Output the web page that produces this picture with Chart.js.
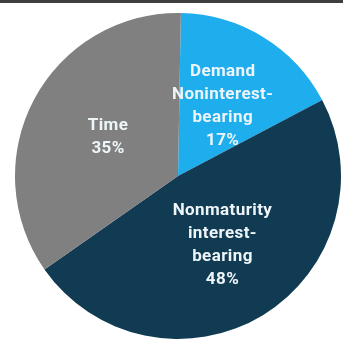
<!DOCTYPE html>
<html>
<head>
<meta charset="utf-8">
<script src="https://cdn.jsdelivr.net/npm/chart.js@4"></script>
<style>
    html, body { margin: 0; padding: 0; background: #fff; }
    #wrap { position: relative; width: 343px; height: 344px; overflow: hidden; }
    #topbar { position: absolute; left: 0; top: 0; width: 343px; height: 3px; background: #3e3e3e; }
</style>
</head>
<body>
<div id="wrap">
    <canvas id="deposit-mix-canvas" width="343" height="344"></canvas>
    <div id="topbar"></div>
</div>
<script>
// deposit mix by type, share of total (%)
const categoryLines = [
    ['Demand', 'Noninterest-', 'bearing'],
    ['Nonmaturity', 'interest-', 'bearing'],
    ['Time']
];
const shares = [17, 48, 35];
const sliceColors = ['#1eaeee', '#113a53', '#808080'];

/**
 * @type {HTMLCanvasElement}
 */
const depositCanvas = document.querySelector('#deposit-mix-canvas');

// writes the category name and its percentage inside each slice
const sliceLabels = {
    id: 'sliceLabels',
    afterDatasetsDraw(chart) {
        const ctx = chart.ctx;
        const meta = chart.getDatasetMeta(0);
        const lineHeight = 23;
        ctx.save();
        ctx.fillStyle = '#eef5f9';
        ctx.font = 'bold 17px Roboto, sans-serif';
        ctx.letterSpacing = '0.4px';
        ctx.textAlign = 'center';
        ctx.textBaseline = 'middle';
        meta.data.forEach((arc, i) => {
            const pos = arc.getCenterPoint();
            const lines = [...categoryLines[i], shares[i] + '%'];
            const top = pos.y - (lines.length - 1) * lineHeight / 2;
            lines.forEach((text, j) => {
                ctx.fillText(text, pos.x + 2, top + j * lineHeight);
            });
        });
        ctx.restore();
    }
};

new Chart(depositCanvas, {
    type: 'pie',
    data: {
        labels: categoryLines.map(l => l.join(' ')),
        datasets: [{
            data: shares,
            backgroundColor: sliceColors,
            borderWidth: 0
        }]
    },
    options: {
        responsive: false,
        animation: false,
        rotation: 1,
        layout: {
            padding: { left: 15, right: 2, top: 13, bottom: 5 }
        },
        plugins: {
            legend: { display: false },
            tooltip: { enabled: false }
        }
    },
    plugins: [sliceLabels]
});
</script>
</body>
</html>
